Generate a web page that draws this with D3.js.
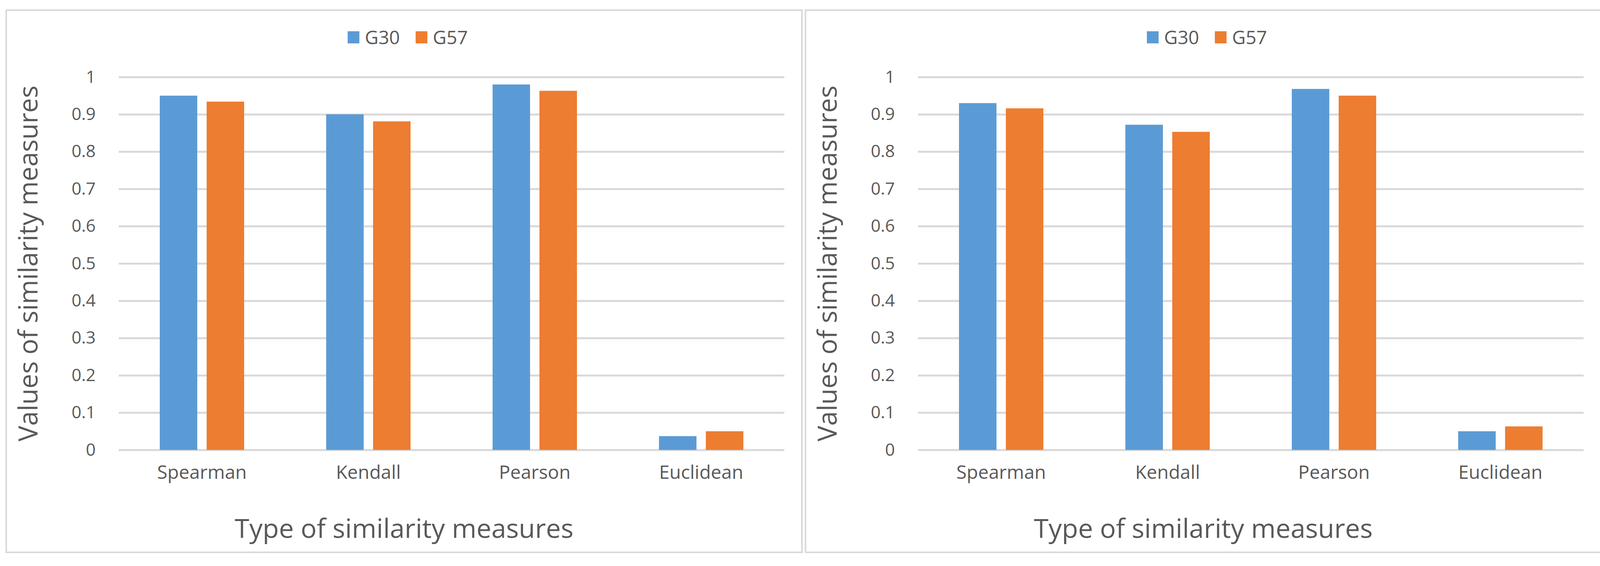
<!DOCTYPE html>
<html>
<head>
<meta charset="utf-8">
<script src="https://cdn.jsdelivr.net/npm/d3@7"></script>
<style>
    body { margin: 0; background: #ffffff; }
    text { font-family: "Open Sans", sans-serif; }
</style>
</head>
<body>
<div id="container"></div>
<script>
    'use strict';

    // values
    const categories = ['Spearman', 'Kendall', 'Pearson', 'Euclidean'];
    const seriesNames = ['G30', 'G57'];
    const leftG30  = [0.95, 0.90, 0.98, 0.037];
    const leftG57  = [0.934, 0.881, 0.963, 0.050];
    const rightG30 = [0.93, 0.872, 0.968, 0.050];
    const rightG57 = [0.916, 0.853, 0.950, 0.063];
    const yTicks = [0, 0.1, 0.2, 0.3, 0.4, 0.5, 0.6, 0.7, 0.8, 0.9, 1];
    const xTitle = 'Type of similarity measures';
    const yTitle = 'Values of similarity measures';

    const canvas = {
        width: 4127,
        height: 1448
    }

    const color = {
        g30: '#5b9bd5',
        g57: '#ed7d31',
        grid: '#d9d9d9',
        frame: '#d9d9d9',
        text: '#595959'
    }

    const panel = {
        width: 2037,
        height: 1387,
        top: 26,
        plotLeft: 288,
        plotRight: 1992,
        plotTop: 171,
        plotBottom: 1125
    }

    const svg = d3.select('#container')
        .append('svg')
        .attr('width', canvas.width)
        .attr('height', canvas.height);

    svg.append('rect')
        .attr('width', canvas.width)
        .attr('height', canvas.height)
        .attr('fill', '#ffffff');

    function drawPanel(left, g30, g57) {
        const g = svg.append('g')
            .attr('transform', 'translate(' + left + ',' + panel.top + ')');

        // chart frame
        g.append('rect')
            .attr('x', 0)
            .attr('y', 0)
            .attr('width', panel.width)
            .attr('height', panel.height)
            .attr('fill', '#ffffff')
            .attr('stroke', color.frame)
            .attr('stroke-width', 4);

        const y = d3.scaleLinear()
            .domain([0, 1])
            .range([panel.plotBottom, panel.plotTop]);

        const x0 = d3.scaleBand()
            .domain(categories)
            .range([panel.plotLeft, panel.plotRight]);

        const x1 = d3.scaleBand()
            .domain(seriesNames)
            .range([0, x0.bandwidth()])
            .paddingInner(0.2)
            .paddingOuter(0.875);

        const z = d3.scaleOrdinal()
            .domain(seriesNames)
            .range([color.g30, color.g57]);

        // gridlines + tick labels
        const yAxis = g.append('g')
            .attr('transform', 'translate(' + panel.plotLeft + ',0)')
            .call(d3.axisLeft(y)
                .tickValues(yTicks)
                .tickFormat(d => String(d))
                .tickSize(-(panel.plotRight - panel.plotLeft))
                .tickPadding(59));
        yAxis.select('.domain').remove();
        yAxis.selectAll('line')
            .attr('stroke', color.grid)
            .attr('stroke-width', 5);
        yAxis.selectAll('text')
            .attr('fill', color.text)
            .style('font-size', '44px');

        const rows = categories.map((c, i) => ({ category: c, G30: g30[i], G57: g57[i] }));

        g.append('g')
            .selectAll('g')
            .data(rows)
            .join('g')
            .attr('transform', d => 'translate(' + x0(d.category) + ',0)')
            .selectAll('rect')
            .data(d => seriesNames.map(s => ({ key: s, value: d[s] })))
            .join('rect')
            .attr('x', d => x1(d.key))
            .attr('y', d => y(d.value))
            .attr('width', x1.bandwidth())
            .attr('height', d => y(0) - y(d.value))
            .attr('fill', d => z(d.key));

        const xAxis = g.append('g')
            .attr('transform', 'translate(0,' + panel.plotBottom + ')')
            .call(d3.axisBottom(x0).tickSize(0).tickPadding(40));
        xAxis.select('.domain').remove();
        xAxis.selectAll('text')
            .attr('fill', color.text)
            .attr('dy', '0.71em')
            .style('font-size', '48px');

        // legend
        const legendX = [874, 1048];
        seriesNames.forEach((s, i) => {
            g.append('rect')
                .attr('x', legendX[i])
                .attr('y', 54)
                .attr('width', 30)
                .attr('height', 31)
                .attr('fill', z(s));
            g.append('text')
                .attr('x', legendX[i] + 44)
                .attr('y', 87)
                .attr('fill', color.text)
                .style('font-size', '48px')
                .text(s);
        });

        // axis titles
        g.append('text')
            .attr('x', panel.width / 2)
            .attr('y', 1350)
            .attr('text-anchor', 'middle')
            .attr('fill', color.text)
            .style('font-size', '68px')
            .text(xTitle);

        g.append('text')
            .attr('transform', 'translate(80,' + ((panel.plotTop + panel.plotBottom) / 2) + ') rotate(-90)')
            .attr('text-anchor', 'middle')
            .attr('fill', color.text)
            .style('font-size', '67px')
            .text(yTitle);
    }

    drawPanel(16, leftG30, leftG57);
    drawPanel(2062, rightG30, rightG57);
</script>
</body>
</html>
